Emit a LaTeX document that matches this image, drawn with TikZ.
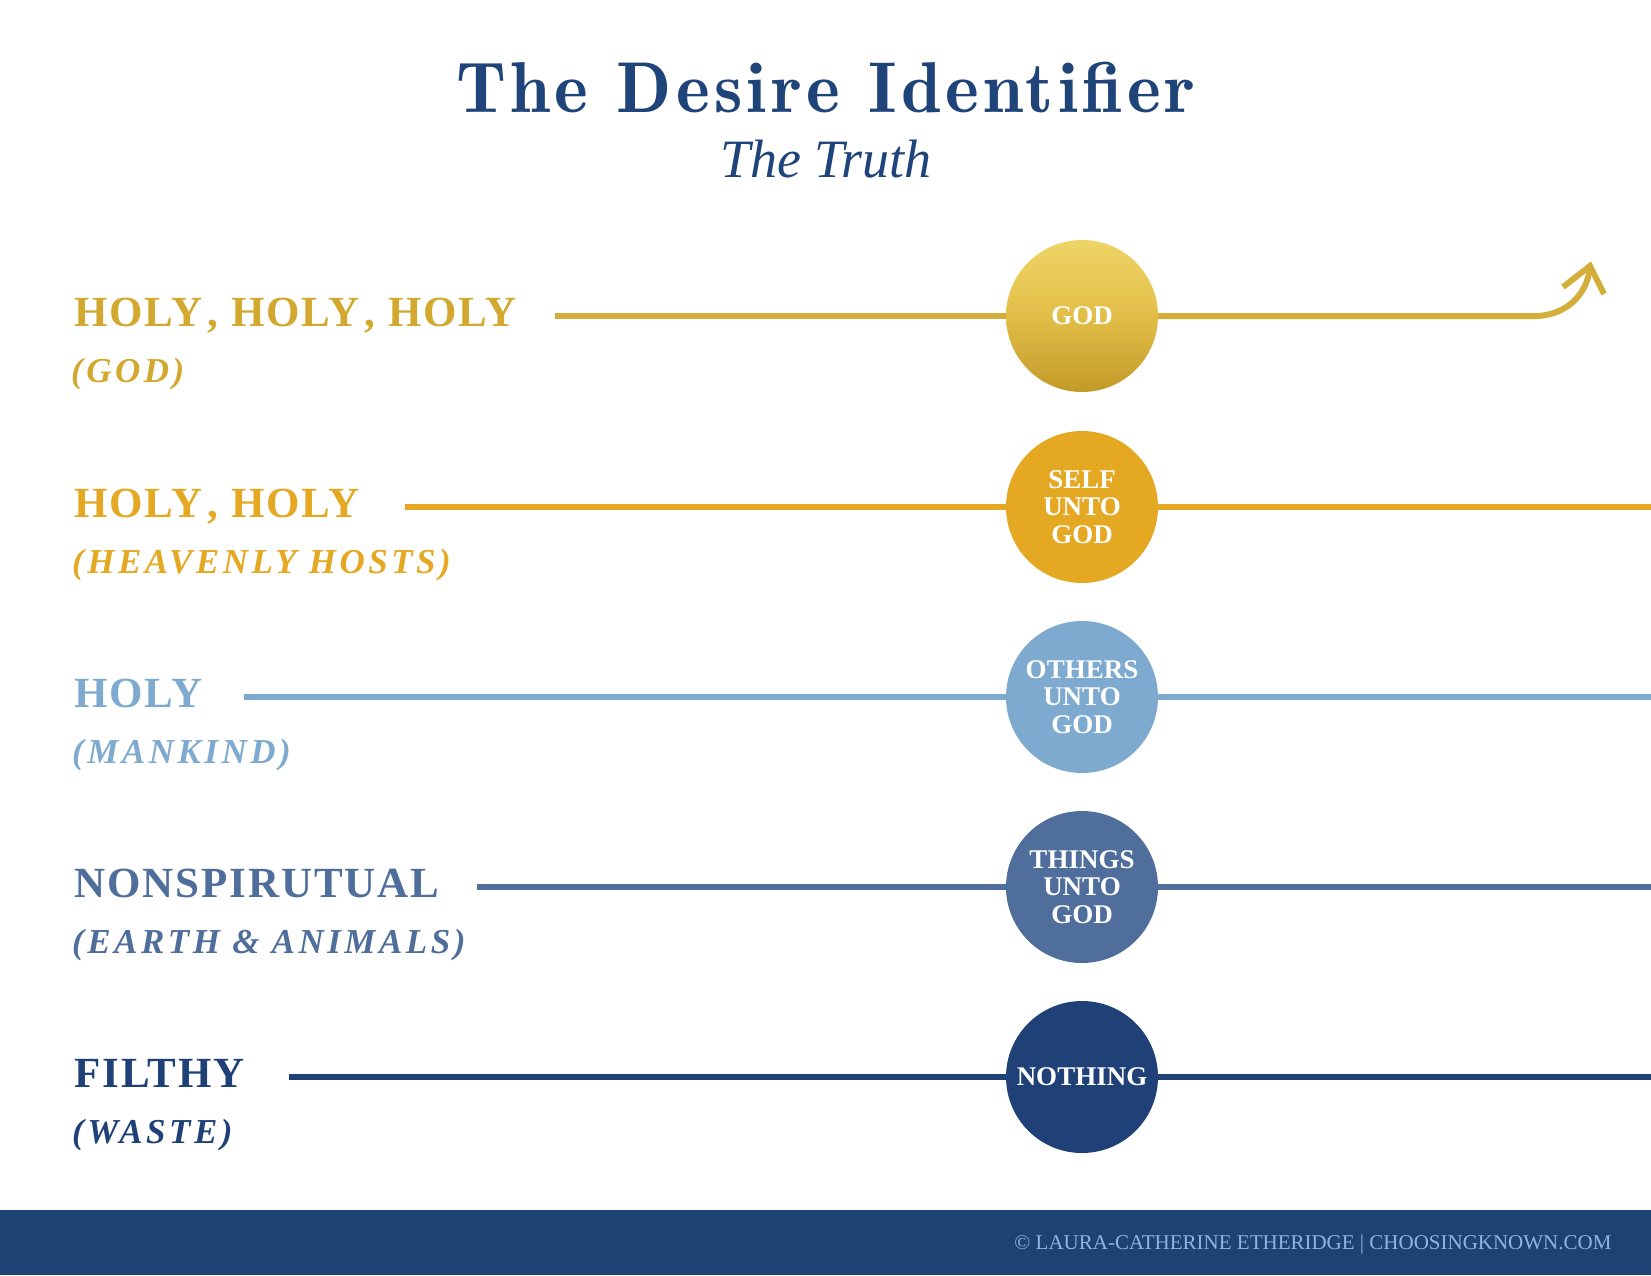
\documentclass[tikz,border=0pt]{standalone}
\usepackage{fontspec}
\setmainfont{Liberation Serif}
\newfontfamily\lblfont{Liberation Serif}[LetterSpace=4.5]
\newfontfamily\subfont{Liberation Serif}[LetterSpace=10]
\newfontfamily\titlefont{lmromandemi10-regular.otf}[LetterSpace=6]
\newfontfamily\plainserif{Liberation Serif}
\newcommand{\cm}{\kern5pt,}
\definecolor{goldtxt}{HTML}{D3A82E}
\definecolor{goldline}{HTML}{D4AE3A}
\definecolor{goldtop}{HTML}{EED466}
\definecolor{goldmid}{HTML}{E2BE48}
\definecolor{goldbot}{HTML}{C29A28}
\definecolor{amber}{HTML}{E5A823}
\definecolor{sky}{HTML}{7EAACF}
\definecolor{slate}{HTML}{4F6E9C}
\definecolor{navy}{HTML}{1F4178}
\definecolor{titleblue}{HTML}{1F4479}
\definecolor{barblue}{HTML}{1F4275}
\definecolor{foottext}{HTML}{8FB4E2}
\begin{document}
\begin{tikzpicture}[x=1pt,y=-1pt,
  dot/.style={circle, minimum size=152pt, inner sep=0pt, text=white, align=center,
    font=\plainserif\bfseries\fontsize{27}{27.5}\selectfont},
  mainlbl/.style={anchor=base west, inner sep=0pt, font=\lblfont\bfseries\fontsize{43}{43}\selectfont},
  sublbl/.style={anchor=base west, inner sep=0pt, font=\subfont\bfseries\itshape\fontsize{35}{35}\selectfont},
  conn/.style={line width=6pt, line cap=butt}
]
\useasboundingbox (0,0) rectangle (1651,1275);
\fill[white] (0,0) rectangle (1651,1275);

% title
\node[anchor=base, inner sep=0pt, text=titleblue, font=\titlefont\fontsize{72}{72}\selectfont] (title) at (826,112) {The Desire Identifier};
\node[anchor=base, inner sep=0pt, text=titleblue, font=\plainserif\itshape\fontsize{54}{54}\selectfont] (truth) at (826,177) {The Truth};

% row 1
\coordinate (l1) at (555,316);
\coordinate (bend1) at (1535,316);
\coordinate (tip1) at (1590,266);
\coordinate (armL1) at (1563,287);
\coordinate (armR1) at (1604,294);
\node[dot, shading=axis, top color=goldtop, bottom color=goldbot, middle color=goldmid] (c1) at (1082,316) {GOD};
\node[mainlbl, text=goldtxt] (m1) at (74,326) {HOLY\cm{} HOLY\cm{} HOLY};
\node[sublbl, text=goldtxt] (s1) at (71,382) {(GOD)};
\draw[conn, goldline] (l1) -- (c1);
\draw[conn, goldline] (c1) -- (bend1) .. controls (1565,316) and (1588,295) .. (tip1);
\draw[conn, goldline, line join=miter] (armL1) -- (tip1) -- (armR1);

% row 2
\coordinate (l2) at (405,507);
\coordinate (r2) at (1651,507);
\node[dot, fill=amber] (c2) at (1082,507) {SELF\\UNTO\\GOD};
\node[mainlbl, text=amber] (m2) at (74,517) {HOLY\cm{} HOLY};
\node[sublbl, text=amber] (s2) at (72,573) {(HEAVENLY HOSTS)};
\draw[conn, amber] (l2) -- (c2);
\draw[conn, amber] (c2) -- (r2);

% row 3
\coordinate (l3) at (244,697);
\coordinate (r3) at (1651,697);
\node[dot, fill=sky] (c3) at (1082,697) {OTHERS\\UNTO\\GOD};
\node[mainlbl, text=sky] (m3) at (74,707) {HOLY};
\node[sublbl, text=sky] (s3) at (72,763) {(MANKIND)};
\draw[conn, sky] (l3) -- (c3);
\draw[conn, sky] (c3) -- (r3);

% row 4
\coordinate (l4) at (477,887);
\coordinate (r4) at (1651,887);
\node[dot, fill=slate] (c4) at (1082,887) {THINGS\\UNTO\\GOD};
\node[mainlbl, text=slate] (m4) at (74,897) {NONSPIRUTUAL};
\node[sublbl, text=slate] (s4) at (72,953) {(EARTH \& ANIMALS)};
\draw[conn, slate] (l4) -- (c4);
\draw[conn, slate] (c4) -- (r4);

% row 5
\coordinate (l5) at (289,1077);
\coordinate (r5) at (1651,1077);
\node[dot, fill=navy] (c5) at (1082,1077) {NOTHING};
\node[mainlbl, text=navy] (m5) at (74,1087) {FILTHY};
\node[sublbl, text=navy] (s5) at (72,1143) {(WASTE)};
\draw[conn, navy] (l5) -- (c5);
\draw[conn, navy] (c5) -- (r5);

% footer
\fill[barblue] (0,1210) rectangle (1651,1275);
\node[anchor=base, inner sep=0pt, text=foottext, font=\plainserif\fontsize{21}{21}\selectfont] (foot) at (1313,1249) {© LAURA-CATHERINE ETHERIDGE | CHOOSINGKNOWN.COM};
\end{tikzpicture}
\end{document}
